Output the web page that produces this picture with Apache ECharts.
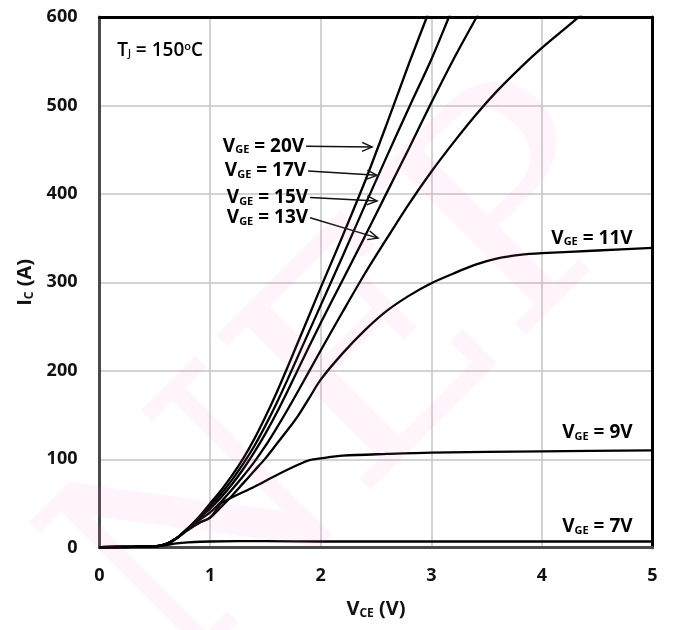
<!DOCTYPE html>
<html>
<head>
<meta charset="utf-8">
<script src="https://cdn.jsdelivr.net/npm/echarts@6/dist/echarts.min.js"></script>
<style>
  html, body { margin: 0; padding: 0; background: #fff; }
  #chart { width: 676px; height: 630px; }
</style>
</head>
<body>
<div id="chart"></div>
<script>
// Output characteristics, Tj = 150 °C: collector current IC (A) vs collector-emitter voltage VCE (V)
const xTicks = [0, 1, 2, 3, 4, 5];
const yTicks = [0, 100, 200, 300, 400, 500, 600];

const vge20 = [[0,0.5],[0.3,1],[0.5,1.5],[0.6,4],[0.7,11],[0.8,22],[0.9,35],[1.0,50],[1.1,65],[1.2,82],[1.3,101],[1.4,123],[1.5,148],[1.6,175],[1.7,204],[1.8,234],[1.9,264],[2.0,294],[2.2,353],[2.4,414],[2.6,480],[2.8,548],[2.96,600],[3.0,613]];
const vge17 = [[0,0.5],[0.3,1],[0.5,1.5],[0.6,4],[0.7,11],[0.8,22],[0.9,34],[1.0,47],[1.1,61],[1.2,77],[1.3,95],[1.4,115],[1.5,138],[1.6,163],[1.7,190],[1.8,218],[2.0,274],[2.2,330],[2.4,387],[2.6,443],[2.8,498],[3.0,552],[3.16,600],[3.2,612]];
const vge15 = [[0,0.5],[0.3,1],[0.5,1.5],[0.6,4],[0.7,11],[0.8,22],[0.9,33],[1.0,44],[1.1,57],[1.2,72],[1.3,89],[1.4,108],[1.5,129],[1.6,152],[1.7,177],[1.8,203],[2.0,254],[2.2,303],[2.4,352],[2.6,402],[2.8,452],[3.0,503],[3.2,552],[3.41,600],[3.45,609]];
const vge13 = [[0,0.5],[0.3,1],[0.5,1.5],[0.6,4],[0.7,11],[0.8,22],[0.9,31],[1.0,40],[1.1,52],[1.2,66],[1.3,81],[1.4,97],[1.5,115],[1.6,135],[1.7,156],[1.8,178],[2.0,223],[2.2,267],[2.4,310],[2.6,350],[2.8,389],[3.0,425],[3.2,458],[3.4,489],[3.6,517],[3.8,542],[4.0,565],[4.2,586],[4.4,607]];
const vge11 = [[0,0.5],[0.3,1],[0.5,1.5],[0.6,4],[0.7,11],[0.8,21],[0.9,28],[1.0,34],[1.1,46],[1.2,59],[1.3,73],[1.4,87],[1.5,101],[1.6,117],[1.7,133],[1.8,150],[1.9,170],[2.0,190],[2.2,220],[2.4,246],[2.6,268],[2.8,285],[3.0,299],[3.2,310],[3.4,320],[3.6,327],[3.8,331],[4.0,333],[4.5,336],[5.0,339]];
const vge9 = [[0,0.5],[0.3,1],[0.5,1.5],[0.6,4],[0.7,11],[0.8,20],[0.9,28],[1.0,34],[1.1,50],[1.2,57],[1.4,69],[1.6,82],[1.8,94],[1.9,99],[2.0,101],[2.2,104],[2.6,106],[3.0,107.5],[4.0,109],[5.0,110]];
const vge7 = [[0,0.5],[0.3,1],[0.5,1.5],[0.6,3],[0.7,5],[0.8,6],[1.0,7],[1.5,7.5],[2.0,7],[3.0,7],[4.0,7],[5.0,7]];

const curveNames = ['20V', '17V', '15V', '13V', '11V', '9V', '7V'];
const curves = [vge20, vge17, vge15, vge13, vge11, vge9, vge7];

const FONT = '"Open Sans", Lato, sans-serif';
const INK = '#111';

const chart = echarts.init(document.getElementById('chart'), null, { renderer: 'canvas' });

const labelRich = {
  a: { fontFamily: FONT, fontSize: 19, fontWeight: 'bold', color: INK },
  s: { fontFamily: FONT, fontSize: 11, fontWeight: 'bold', color: INK, padding: [8, 0, 0, 0] },
  t: { fontFamily: FONT, fontSize: 20, fontWeight: 'bold', color: INK },
  ts: { fontFamily: FONT, fontSize: 12, fontWeight: 'bold', color: INK, padding: [9, 0, 0, 0] },
  n: { fontFamily: FONT, fontSize: 19, fontWeight: 600, color: '#000' },
  ns: { fontFamily: FONT, fontSize: 10, fontWeight: 600, color: '#000', padding: [8, 0, 0, 0] },
  sup: { fontFamily: FONT, fontSize: 11, fontWeight: 600, color: '#000', padding: [0, 0, 8, 0] }
};

chart.setOption({
  animation: false,
  backgroundColor: '#fff',
  grid: { left: 99.5, right: 23.5, top: 17, bottom: 82.3, containLabel: false },
  xAxis: [{
    type: 'value', min: 0, max: 5, interval: 1,
    axisLine: { show: true, onZero: false, lineStyle: { color: '#4a4a4a', width: 3 } },
    axisTick: { show: false },
    axisLabel: { fontFamily: FONT, fontSize: 18, fontWeight: 'bold', color: INK, margin: 19 },
    splitLine: { show: true, lineStyle: { color: '#c4c4c4', width: 1.5 } },
    name: '{t|V}{ts|CE}{t| (V)}',
    nameLocation: 'middle', nameGap: 51,
    nameTextStyle: { rich: labelRich }
  }, {
    type: 'value', min: 0, max: 5, interval: 1, position: 'top',
    axisLine: { show: true, onZero: false, lineStyle: { color: '#000', width: 3 } },
    axisTick: { show: false }, axisLabel: { show: false }, splitLine: { show: false }
  }],
  yAxis: [{
    type: 'value', min: 0, max: 600, interval: 100,
    axisLine: { show: true, onZero: false, lineStyle: { color: '#4a4a4a', width: 3 } },
    axisTick: { show: false },
    axisLabel: { fontFamily: FONT, fontSize: 18, fontWeight: 'bold', color: INK, margin: 22 },
    splitLine: { show: true, lineStyle: { color: '#c4c4c4', width: 1.5 } },
    name: '{t|I}{ts|C}{t| (A)}',
    nameLocation: 'middle', nameGap: 60, nameRotate: 90,
    nameTextStyle: { rich: labelRich }
  }, {
    type: 'value', min: 0, max: 600, interval: 100, position: 'right',
    axisLine: { show: true, onZero: false, lineStyle: { color: '#000', width: 3 } },
    axisTick: { show: false }, axisLabel: { show: false }, splitLine: { show: false }
  }],
  series: curves.map((d, i) => ({
    name: 'VGE = ' + curveNames[i],
    type: 'line',
    data: d,
    xAxisIndex: 0, yAxisIndex: 0,
    smooth: 0.3,
    showSymbol: false,
    clip: true,
    lineStyle: { color: '#000', width: 2.3 },
    z: 3
  }))
});

// Curve annotations, anchored in data coordinates
const arrowNotes = [
  { text: '20V', at: [1.859, 454], tip: [2.465, 453] },
  { text: '17V', at: [1.877, 426], tip: [2.51, 421] },
  { text: '15V', at: [1.895, 396], tip: [2.51, 392] },
  { text: '13V', at: [1.895, 373], tip: [2.519, 350] }
];
const plainNotes = [
  { text: '11V', at: [4.82, 350] },
  { text: '9V', at: [4.82, 130] },
  { text: '7V', at: [4.82, 23.5] }
];

const px = (p) => chart.convertToPixel({ xAxisIndex: 0, yAxisIndex: 0 }, p);
const graphics = [];

function vgeText(v) {
  return '{a|V}{s|GE}{a| = ' + v + '}';
}

arrowNotes.forEach((n) => {
  const a = px(n.at), t = px(n.tip);
  graphics.push({
    type: 'text', x: a[0] - 1, y: a[1], z: 10,
    style: { text: vgeText(n.text), rich: labelRich, align: 'right', verticalAlign: 'middle' }
  });
  const ang = Math.atan2(t[1] - a[1], t[0] - a[0]);
  const L = 11, spread = 0.42;
  const h1 = [t[0] - L * Math.cos(ang - spread), t[1] - L * Math.sin(ang - spread)];
  const h2 = [t[0] - L * Math.cos(ang + spread), t[1] - L * Math.sin(ang + spread)];
  graphics.push({
    type: 'polyline', z: 10,
    shape: { points: [[a[0] + 1, a[1]], t] },
    style: { stroke: '#111', lineWidth: 1.5, fill: null }
  });
  graphics.push({
    type: 'polyline', z: 10,
    shape: { points: [h1, t, h2] },
    style: { stroke: '#111', lineWidth: 1.4, fill: null }
  });
});

plainNotes.forEach((n) => {
  const a = px(n.at);
  graphics.push({
    type: 'text', x: a[0], y: a[1], z: 10,
    style: { text: vgeText(n.text), rich: labelRich, align: 'right', verticalAlign: 'middle' }
  });
});

// Junction temperature note
const tj = px([0.16, 562]);
graphics.push({
  type: 'text', x: tj[0], y: tj[1], z: 10,
  style: {
    text: '{n|T}{ns|J}{n| = 150}{sup|o}{n|C}',
    rich: labelRich, align: 'left', verticalAlign: 'middle'
  }
});

// Faint diagonal watermark
graphics.push({
  type: 'text', x: 360, y: 390, rotation: Math.PI / 4, z: 50, silent: true,
  style: {
    text: 'NEP',
    fontFamily: '"DejaVu Serif", serif', fontSize: 300, fontWeight: 'normal',
    fill: 'rgba(255, 110, 205, 0.08)',
    align: 'center', verticalAlign: 'middle'
  }
});

chart.setOption({ graphic: graphics });
</script>
</body>
</html>
